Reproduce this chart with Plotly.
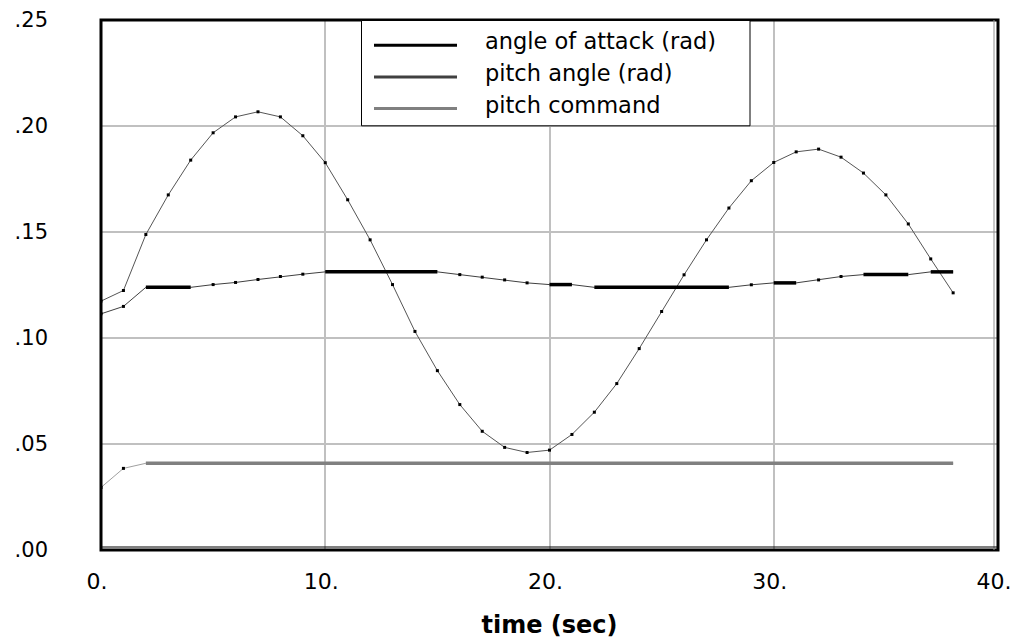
import plotly.graph_objects as go

# ---- data ----
time_s = list(range(0, 39))

pitch_angle = [0.1174, 0.1224, 0.1488, 0.1675, 0.1839, 0.1968, 0.2043, 0.2067, 0.2043, 0.1954,
               0.1827, 0.1652, 0.1463, 0.1252, 0.1031, 0.0846, 0.0686, 0.0560, 0.0484, 0.0460,
               0.0471, 0.0545, 0.0650, 0.0785, 0.0950, 0.1125, 0.1298, 0.1463, 0.1613, 0.1742,
               0.1828, 0.1878, 0.1891, 0.1853, 0.1778, 0.1675, 0.1538, 0.1373, 0.1213]

angle_of_attack = [0.1114, 0.1149, 0.1239, 0.1239, 0.1239, 0.1252, 0.1262, 0.1276, 0.1290, 0.1301,
                   0.1312, 0.1312, 0.1312, 0.1312, 0.1312, 0.1312, 0.1299, 0.1287, 0.1274, 0.1260,
                   0.1252, 0.1252, 0.1239, 0.1239, 0.1239, 0.1239, 0.1239, 0.1239, 0.1239, 0.1251,
                   0.1260, 0.1260, 0.1274, 0.1290, 0.1299, 0.1299, 0.1299, 0.1312, 0.1312]

pitch_command = [0.0295, 0.0385] + [0.0409] * 37

x_tickvals = [0, 10, 20, 30, 40]
x_ticktext = ["0.", "10.", "20.", "30.", "40."]
y_tickvals = [0.0, 0.05, 0.10, 0.15, 0.20, 0.25]
y_ticktext = [".00", ".05", ".10", ".15", ".20", ".25"]

legend_labels = ["angle of attack (rad)", "pitch angle (rad)", "pitch command"]
legend_colors = ["#000000", "#404040", "#808080"]

FONT = "DejaVu Sans"


def flat_runs(t, v):
    """Merge consecutive equal values into single horizontal polylines."""
    xs, ys = [], []
    in_run = [False] * len(v)
    i = 0
    n = len(v)
    while i < n - 1:
        if v[i] == v[i + 1]:
            j = i
            while j < n - 1 and v[j] == v[j + 1]:
                j += 1
            xs += [t[i], t[j], None]
            ys += [v[i], v[j], None]
            for k in range(i, j + 1):
                in_run[k] = True
            i = j
        else:
            i += 1
    return xs, ys, in_run


fig = go.Figure()

# thin lines
thin_styles = [(pitch_angle, "#555555"), (angle_of_attack, "#404040"), (pitch_command, "#a0a0a0")]
for series, col in thin_styles:
    fig.add_trace(go.Scatter(x=time_s, y=series, mode="lines",
                             line=dict(color=col, width=1), showlegend=False, hoverinfo="skip"))

# thick horizontal runs + markers on the remaining sample points
for series, col in [(pitch_angle, None), (angle_of_attack, "#000000"), (pitch_command, "#808080")]:
    xs, ys, in_run = flat_runs(time_s, series)
    if xs:
        fig.add_trace(go.Scatter(x=xs, y=ys, mode="lines",
                                 line=dict(color=col, width=3.5), showlegend=False,
                                 hoverinfo="skip", connectgaps=False))
    mx = [t for t, r in zip(time_s, in_run) if not r]
    my = [v for v, r in zip(series, in_run) if not r]
    fig.add_trace(go.Scatter(x=mx, y=my, mode="markers",
                             marker=dict(symbol="square", size=3, color="#000000", line=dict(width=0)),
                             showlegend=False, hoverinfo="skip"))

# ---- frame ----
PLOT_W = 897.0
PLOT_H = 531.0
shapes = [
    dict(type="rect", xref="paper", yref="paper", x0=0, x1=1, y0=0, y1=1,
         line=dict(color="#000000", width=3), layer="above"),
    dict(type="line", xref="paper", yref="paper", x0=1 - 4 / PLOT_W, x1=1 - 4 / PLOT_W, y0=0, y1=1,
         line=dict(color="#909090", width=1), layer="above"),
    dict(type="line", xref="paper", yref="paper", x0=0, x1=1, y0=3 / PLOT_H, y1=3 / PLOT_H,
         line=dict(color="#000000", width=1), layer="above"),
]


def px_x(p):
    return (p - 101.0) / PLOT_W


def px_y(p):
    return 1 - (p - 19.0) / PLOT_H


shapes.append(dict(type="rect", xref="paper", yref="paper",
                   x0=px_x(361.5), x1=px_x(750), y0=px_y(125), y1=px_y(19.5),
                   line=dict(color="#000000", width=1), fillcolor="#ffffff", layer="above"))

annotations = []
legend_rows = [44.3, 76.0, 107.7]
for lbl, col, row in zip(legend_labels, legend_colors, legend_rows):
    shapes.append(dict(type="line", xref="paper", yref="paper",
                       x0=px_x(374), x1=px_x(457), y0=px_y(row), y1=px_y(row),
                       line=dict(color=col, width=3), layer="above"))
    annotations.append(dict(xref="paper", yref="paper", x=px_x(483), y=px_y(row - 4),
                            xanchor="left", yanchor="middle", showarrow=False, text=lbl,
                            font=dict(family=FONT, size=22.5, color="#000000")))

fig.update_layout(
    width=1015, height=639,
    margin=dict(l=101, r=17, t=20, b=89, pad=0, autoexpand=False),
    paper_bgcolor="#ffffff", plot_bgcolor="#ffffff",
    showlegend=False,
    shapes=shapes,
    annotations=annotations,
    font=dict(family=FONT, color="#000000"),
)

fig.update_xaxes(range=[0, 40], tickvals=x_tickvals, ticktext=x_ticktext, automargin=False,
                 showgrid=True, gridcolor="#c0c0c0", gridwidth=2, zeroline=False,
                 showline=False, ticks="", tickfont=dict(family=FONT, size=22, color="#000000"),
                 ticklabelstandoff=16, ticklabelshift=-4,
                 title=dict(text="<b>time (sec)</b>", font=dict(family=FONT, size=24, color="#000000"),
                            standoff=28))
fig.update_yaxes(range=[0, 0.25], tickvals=y_tickvals, ticktext=y_ticktext, automargin=False,
                 showgrid=True, gridcolor="#c0c0c0", gridwidth=2, zeroline=False,
                 showline=False, ticks="", tickfont=dict(family=FONT, size=21, color="#000000"),
                 ticklabelstandoff=52)

fig.write_html("out.html", config={"displayModeBar": False},
               post_script="document.body.style.margin='0';document.body.style.overflow='hidden';")
